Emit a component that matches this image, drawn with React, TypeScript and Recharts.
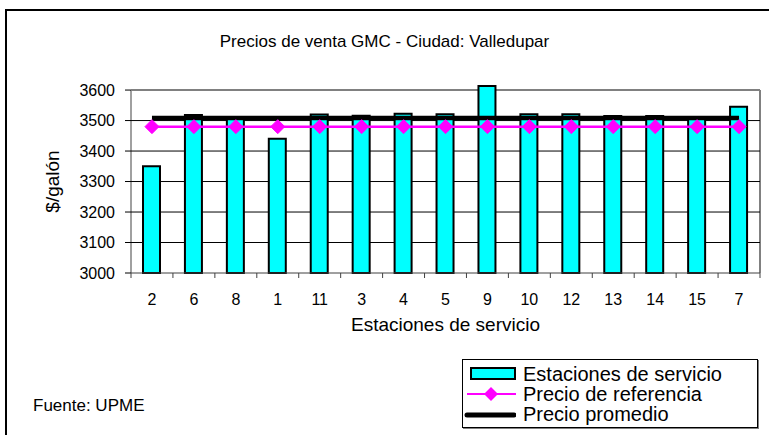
import { ComposedChart, Bar, Line, XAxis, YAxis, CartesianGrid } from 'recharts'

// Estaciones de servicio, in the order shown on the axis
const stations = ['2', '6', '8', '1', '11', '3', '4', '5', '9', '10', '12', '13', '14', '15', '7']
const stationPrices = [3350, 3518, 3505, 3440, 3520, 3516, 3522, 3521, 3613, 3521, 3521, 3515, 3515, 3505, 3545]
const referencePrices = [3480, 3480, 3480, 3480, 3480, 3480, 3480, 3480, 3480, 3480, 3480, 3480, 3480, 3480, 3480]
const averagePrices = [3508, 3508, 3508, 3508, 3508, 3508, 3508, 3508, 3508, 3508, 3508, 3508, 3508, 3508, 3508]
const yTicks = [3000, 3100, 3200, 3300, 3400, 3500, 3600]

const data = stations.map((station, i) => ({
  station,
  price: stationPrices[i],
  reference: referencePrices[i],
  average: averagePrices[i],
}))

const W = 769
const H = 435
const PLOT_LEFT = 131
const PLOT_RIGHT = 760
// the plot box starts a little above the 3600 line so the tallest bar can stick out of the frame
const PLOT_TOP = 80
const PLOT_BOTTOM = 273
const Y_MIN = 3000
const Y_FRAME = 3600
const Y_MAX = 3633
const FONT = 'Arial, "Liberation Sans", sans-serif'

const band = (PLOT_RIGHT - PLOT_LEFT) / stations.length
// same mapping as the linear y scale, used for the frame and grid only
const yPos = (v: number) => PLOT_TOP + ((Y_MAX - v) / (Y_MAX - Y_MIN)) * (PLOT_BOTTOM - PLOT_TOP)

function StationTick(props: any) {
  const { x, y, payload, index } = props
  const top = y - 8
  return (
    <g>
      <line x1={x - band / 2} x2={x - band / 2} y1={top} y2={top + 5} stroke="#404040" />
      {index === stations.length - 1 && (
        <line x1={x + band / 2} x2={x + band / 2} y1={top} y2={top + 5} stroke="#404040" />
      )}
      <text x={x} y={y + 24} textAnchor="middle" fontSize={16} fontFamily={FONT} fill="#000">
        {payload.value}
      </text>
    </g>
  )
}

function Diamond(props: any) {
  const { cx, cy } = props
  const r = 7
  return (
    <polygon
      points={`${cx},${cy - r} ${cx + r},${cy} ${cx},${cy + r} ${cx - r},${cy}`}
      fill="#FF00FF"
      stroke="#FF00FF"
    />
  )
}

function LegendBox() {
  const row = { display: 'flex', alignItems: 'center', height: 20 } as const
  const label = { marginLeft: 7, lineHeight: '20px', whiteSpace: 'nowrap' } as const
  return (
    <div
      style={{
        position: 'absolute',
        left: 462,
        top: 359,
        width: 296,
        height: 69,
        border: '1px solid #000',
        boxShadow: '1px 1px 0 #808080',
        background: '#fff',
        fontFamily: FONT,
        fontSize: 20,
        paddingTop: 4,
        boxSizing: 'border-box',
      }}
    >
      <div style={row}>
        <svg width={53} height={20}>
          <rect x={8} y={4} width={44} height={11} fill="#00FFFF" stroke="#000" strokeWidth={2} />
        </svg>
        <span style={label}>Estaciones de servicio</span>
      </div>
      <div style={row}>
        <svg width={53} height={20}>
          <line x1={4} x2={53} y1={10} y2={10} stroke="#FF00FF" strokeWidth={2} />
          <polygon points="28,3 35,10 28,17 21,10" fill="#FF00FF" />
        </svg>
        <span style={label}>Precio de referencia</span>
      </div>
      <div style={row}>
        <svg width={53} height={20}>
          <line x1={4} x2={51} y1={11} y2={11} stroke="#000" strokeWidth={5} strokeLinecap="round" />
        </svg>
        <span style={label}>Precio promedio</span>
      </div>
    </div>
  )
}

export default function App() {
  const frameTop = yPos(Y_FRAME)
  return (
    <div style={{ position: 'fixed', left: 0, top: 0, width: W, height: H, background: '#fff', fontFamily: FONT }}>
      {/* outer frame, cut off at the right and bottom like the source image */}
      <div style={{ position: 'absolute', left: 5, top: 9, right: 0, bottom: 0, borderLeft: '2px solid #000', borderTop: '2px solid #000' }} />

      <div style={{ position: 'absolute', left: 0, width: W, top: 32, textAlign: 'center', fontSize: 17, lineHeight: '20px' }}>
        Precios de venta GMC - Ciudad: Valledupar
      </div>

      {/* plot frame, behind the chart so the tall bar covers it */}
      <svg style={{ position: 'absolute', left: 0, top: 0 }} width={W} height={H}>
        <line x1={PLOT_LEFT} x2={PLOT_LEFT} y1={frameTop} y2={PLOT_BOTTOM} stroke="#808080" strokeWidth={1.5} />
        <line x1={PLOT_LEFT} x2={PLOT_RIGHT} y1={frameTop} y2={frameTop} stroke="#808080" strokeWidth={2} />
        <line x1={PLOT_RIGHT} x2={PLOT_RIGHT} y1={frameTop} y2={PLOT_BOTTOM} stroke="#808080" strokeWidth={2} />
      </svg>

      <div style={{ position: 'absolute', left: 0, top: 0 }}>
        <ComposedChart
          width={W}
          height={H}
          data={data}
          margin={{ top: PLOT_TOP, right: W - PLOT_RIGHT, bottom: 0, left: 0 }}
        >
          <CartesianGrid
            vertical={false}
            stroke="#000"
            horizontalPoints={yTicks.filter((t) => t !== Y_FRAME && t !== Y_MIN).map(yPos)}
          />
          <XAxis
            dataKey="station"
            height={H - PLOT_BOTTOM}
            axisLine={{ stroke: '#404040' }}
            tickLine={false}
            tick={<StationTick />}
            interval={0}
            label={{ value: 'Estaciones de servicio', position: 'insideTop', offset: 45, fontSize: 19, fill: '#000', fontFamily: FONT }}
          />
          <YAxis
            width={PLOT_LEFT}
            domain={[Y_MIN, Y_MAX]}
            ticks={yTicks}
            interval={0}
            axisLine={false}
            tickLine={{ stroke: '#000' }}
            tickSize={6}
            tickMargin={10}
            tick={{ fontSize: 16, fill: '#000', fontFamily: FONT }}
            label={{ value: '$/galón', angle: -90, position: 'center', dx: -13, dy: 5, fontSize: 19, fill: '#000', fontFamily: FONT }}
          />
          <Bar dataKey="price" fill="#00FFFF" stroke="#000" strokeWidth={2} barSize={17} isAnimationActive={false} />
          <Line
            dataKey="reference"
            stroke="#FF00FF"
            strokeWidth={2.5}
            dot={(p: any) => <Diamond key={`d-${p.index}`} {...p} />}
            isAnimationActive={false}
          />
          <Line dataKey="average" stroke="#000" strokeWidth={4.5} dot={false} isAnimationActive={false} />
        </ComposedChart>
      </div>

      <LegendBox />

      <div style={{ position: 'absolute', left: 33, top: 396, fontSize: 17, lineHeight: '20px' }}>Fuente: UPME</div>
    </div>
  )
}
